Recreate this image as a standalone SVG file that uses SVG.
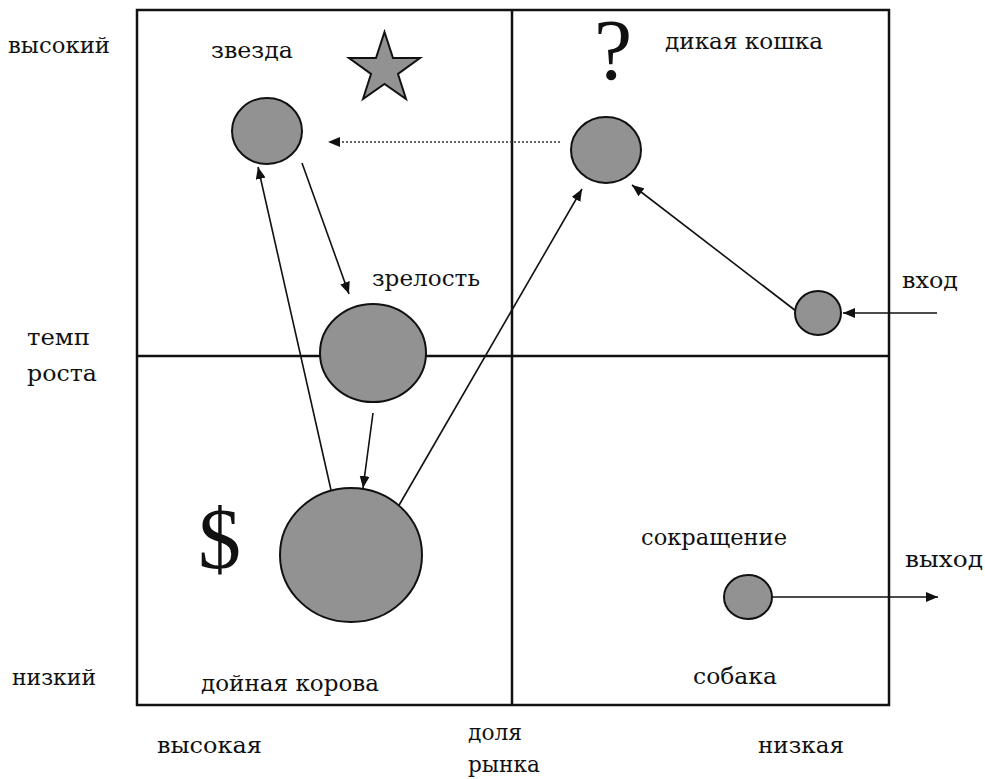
<svg xmlns="http://www.w3.org/2000/svg" width="985" height="779" viewBox="0 0 985 779">
<style>
text{font-family:"DejaVu Serif","Liberation Serif",serif;font-size:23px;fill:#111}
.frame{fill:none;stroke:#111;stroke-width:2.5}
.ax{stroke:#111;stroke-width:2.5}
.ball{fill:#929292;stroke:#111;stroke-width:2}
.con{fill:none;stroke:#111;stroke-width:1.6}
.dot{fill:none;stroke:#333;stroke-width:1.5;stroke-dasharray:2 2}
.big{font-family:"Liberation Serif",serif;font-size:86px}
</style>
<defs>
<marker id="ah" viewBox="0 0 12 10" refX="12" refY="5" markerWidth="12" markerHeight="10" markerUnits="userSpaceOnUse" orient="auto">
<path d="M0,0 L12,5 L0,10 Z" fill="#111"/>
</marker>
</defs>
<rect fill="#fff" width="985" height="779"/>
<g id="frame">
<rect class="frame" x="137" y="10" width="752" height="695"/>
<line class="ax" x1="512" y1="10" x2="512" y2="705"/>
<line class="ax" x1="137" y1="356" x2="889" y2="356"/>
</g>
<g id="labels">
<text x="8" y="53" textLength="102" lengthAdjust="spacingAndGlyphs">высокий</text>
<text x="27" y="345" textLength="63" lengthAdjust="spacingAndGlyphs">темп</text>
<text x="27" y="381" textLength="70" lengthAdjust="spacingAndGlyphs">роста</text>
<text x="12" y="685" textLength="84" lengthAdjust="spacingAndGlyphs">низкий</text>
<text x="157" y="753" textLength="105" lengthAdjust="spacingAndGlyphs">высокая</text>
<text x="468" y="740" textLength="54" lengthAdjust="spacingAndGlyphs">доля</text>
<text x="468" y="772" textLength="72" lengthAdjust="spacingAndGlyphs">рынка</text>
<text x="758" y="753" textLength="86" lengthAdjust="spacingAndGlyphs">низкая</text>
</g>
<g id="star-quadrant">
<text x="211" y="58" textLength="82" lengthAdjust="spacingAndGlyphs">звезда</text>
<polygon class="ball" stroke-width="1.5" points="384.5,32 393,58 420,58 398,74 406,99 384.5,84 363,99 371,74 349,58 376,58"/>
</g>
<g id="wildcat-quadrant">
<text class="big" x="594" y="79">?</text>
<text x="665" y="49" textLength="158" lengthAdjust="spacingAndGlyphs">дикая кошка</text>
</g>
<g id="cashcow-quadrant">
<text class="big" x="198" y="568">$</text>
<text x="201" y="691" textLength="178" lengthAdjust="spacingAndGlyphs">дойная корова</text>
</g>
<g id="dog-quadrant">
<text x="641" y="545" textLength="146" lengthAdjust="spacingAndGlyphs">сокращение</text>
<text x="693" y="684" textLength="84" lengthAdjust="spacingAndGlyphs">собака</text>
</g>
<g id="connectors">
<line class="dot" x1="560" y1="142" x2="328" y2="142" marker-end="url(#ah)"/>
<line class="con" x1="331" y1="490" x2="258" y2="167" marker-end="url(#ah)"/>
<line class="con" x1="302" y1="163" x2="349" y2="294" marker-end="url(#ah)"/>
<line class="con" x1="373" y1="413" x2="363" y2="488" marker-end="url(#ah)"/>
<line class="con" x1="398" y1="507" x2="582" y2="189" marker-end="url(#ah)"/>
<line class="con" x1="796" y1="311" x2="632" y2="185" marker-end="url(#ah)"/>
<line class="con" x1="937" y1="313" x2="843" y2="313" marker-end="url(#ah)"/>
<line class="con" x1="772" y1="597" x2="938" y2="597" marker-end="url(#ah)"/>
</g>
<g id="star-ball"><ellipse class="ball" cx="267" cy="131" rx="35" ry="33"/></g>
<g id="wildcat-ball"><ellipse class="ball" cx="606" cy="150" rx="35" ry="33"/></g>
<g id="maturity"><ellipse class="ball" cx="373" cy="353" rx="53" ry="49"/><text x="372" y="286" textLength="108" lengthAdjust="spacingAndGlyphs">зрелость</text></g>
<g id="cashcow-ball"><ellipse class="ball" cx="351" cy="555" rx="71" ry="67"/></g>
<g id="entry"><ellipse class="ball" cx="818" cy="313" rx="23" ry="22"/><text x="902" y="288" textLength="56" lengthAdjust="spacingAndGlyphs">вход</text></g>
<g id="dog-ball"><ellipse class="ball" cx="748" cy="597" rx="24" ry="22"/></g>
<g id="exit"><text x="905" y="567" textLength="78" lengthAdjust="spacingAndGlyphs">выход</text></g>
</svg>
